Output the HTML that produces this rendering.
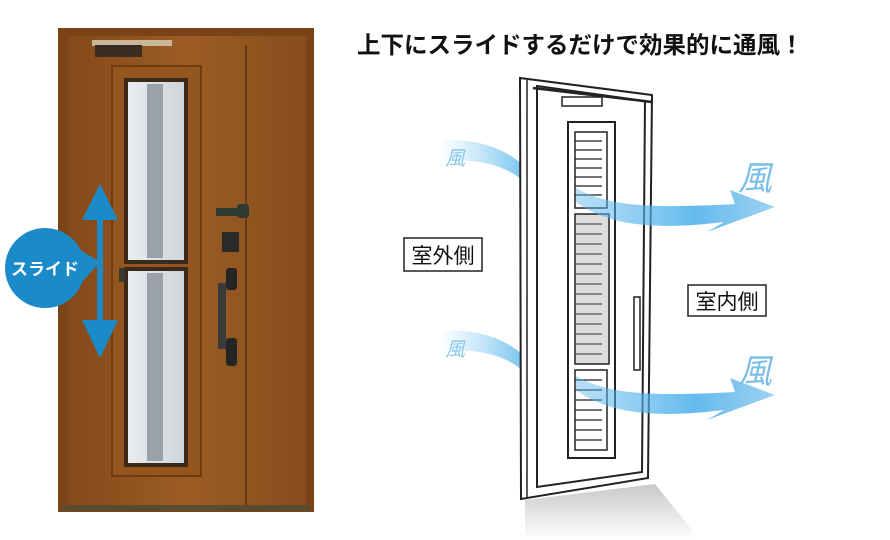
<!DOCTYPE html>
<html><head><meta charset="utf-8"><style>
html,body{margin:0;padding:0;background:#fff;width:890px;height:540px;overflow:hidden}
svg text{font-family:"Liberation Sans","Noto Sans CJK JP",sans-serif}
</style></head><body>
<svg width="890" height="540" viewBox="0 0 890 540" xmlns="http://www.w3.org/2000/svg">
<defs>
<linearGradient id="wood" x1="0" x2="1"><stop offset="0" stop-color="#84491a"/><stop offset=".5" stop-color="#9c5d25"/><stop offset="1" stop-color="#874d1d"/></linearGradient>
<linearGradient id="glass" x1="0" x2="1"><stop offset="0" stop-color="#e8ecef"/><stop offset="1" stop-color="#cfd5da"/></linearGradient>
<linearGradient id="wl" x1="0" x2="1"><stop offset="0" stop-color="#8fd0f2" stop-opacity="0"/><stop offset="1" stop-color="#6cc0ee" stop-opacity=".9"/></linearGradient>
<linearGradient id="wr" x1="0" x2="1"><stop offset="0" stop-color="#5ab6ec" stop-opacity=".5"/><stop offset=".6" stop-color="#4aaeea"/><stop offset="1" stop-color="#8ccaf0"/></linearGradient>
<linearGradient id="sh" x1="0" y1="0" x2="0" y2="1"><stop offset="0" stop-color="#c8c8c8"/><stop offset="1" stop-color="#fff"/></linearGradient>
</defs>
<rect x="58" y="28" width="256" height="484" fill="#7a4417"/>
<rect x="68" y="36" width="238" height="470" fill="url(#wood)"/>
<line x1="246" y1="45" x2="246" y2="505" stroke="#6a3a12" stroke-width="2"/>
<rect x="62" y="505" width="248" height="6" fill="#5a4a30"/>
<rect x="92" y="40" width="80" height="6" fill="#c9b79a"/>
<rect x="95" y="45" width="47" height="12" fill="#3a2e22"/>
<rect x="112" y="66" width="89" height="410" fill="#93561f" stroke="#6f3c12" stroke-width="2"/>
<rect x="124" y="78" width="64" height="186" fill="#3b2a1a"/>
<rect x="128" y="82" width="56" height="178" fill="url(#glass)"/>
<rect x="147" y="84" width="16" height="174" fill="#9aa1a8"/>
<rect x="124" y="267" width="64" height="200" fill="#3b2a1a"/>
<rect x="128" y="271" width="56" height="192" fill="url(#glass)"/>
<rect x="147" y="273" width="16" height="188" fill="#9aa1a8"/>
<rect x="119" y="268" width="6" height="14" fill="#3a3a2a"/>
<rect x="216" y="208" width="30" height="8" fill="#2f3a32"/>
<rect x="237" y="204" width="12" height="14" rx="3" fill="#2f3a32"/>
<rect x="222" y="232" width="17" height="20" fill="#2a2a2a"/>
<rect x="226" y="268" width="11" height="22" rx="3" fill="#252525"/>
<rect x="218" y="283" width="8" height="66" fill="#3a3a3a"/>
<rect x="226" y="338" width="11" height="28" rx="3" fill="#252525"/>
<path d="M100 184 L118 220 L103 220 L103 320 L118 320 L100 358 L82 320 L97 320 L97 220 L82 220 Z" fill="#1a8ac8"/>
<circle cx="45" cy="268" r="40" fill="#1a8ac8"/>
<path d="M80 250 L100 262 L82 282 Z" fill="#1a8ac8"/>
<text x="45" y="275" fill="#fff" font-size="17" font-weight="bold" text-anchor="middle">スライド</text>
<text x="357" y="53" font-size="23.5" font-weight="bold" fill="#111">上下にスライドするだけで効果的に通風！</text>
<polygon points="525,500 655,484 700,540 525,540" fill="url(#sh)"/>
<path d="M440 140 C480 138 505 150 522 164 L522 180 C505 166 480 158 440 161 Z" fill="url(#wl)"/>
<path d="M440 331 C480 328 505 340 522 354 L522 370 C505 356 480 348 440 351 Z" fill="url(#wl)"/>
<text x="455" y="165" font-size="20" fill="#8cc8ec" font-style="italic" text-anchor="middle">風</text>
<text x="455" y="356" font-size="20" fill="#8cc8ec" font-style="italic" text-anchor="middle">風</text>
<polygon points="520,78 652,95 648,478 521,499" fill="#fff" stroke="#222" stroke-width="2"/>
<line x1="527" y1="80" x2="527" y2="498" stroke="#222" stroke-width="1.5"/>
<polygon points="537,86 645,101 642,472 537,487" fill="#fff" stroke="#222" stroke-width="2"/>
<line x1="533" y1="88" x2="652" y2="102" stroke="#222" stroke-width="2.5"/>
<rect x="562" y="97" width="40" height="9" fill="#fff" stroke="#222" stroke-width="1.5"/>
<rect x="568" y="122" width="47" height="336" fill="#fff" stroke="#222" stroke-width="2"/>
<rect x="575" y="132" width="32" height="76" fill="#fff" stroke="#222" stroke-width="1.5"/>
<g stroke="#222" stroke-width="1.2">
<line x1="575" y1="141" x2="602" y2="141"/><line x1="575" y1="150" x2="602" y2="150"/><line x1="575" y1="159" x2="602" y2="159"/><line x1="575" y1="168" x2="602" y2="168"/><line x1="575" y1="177" x2="602" y2="177"/><line x1="575" y1="186" x2="602" y2="186"/><line x1="575" y1="195" x2="602" y2="195"/>
</g>
<rect x="575" y="214" width="34" height="150" fill="#ddd" stroke="#222" stroke-width="1.5"/>
<g stroke="#333" stroke-width="1">
<line x1="576" y1="224" x2="602" y2="224"/><line x1="576" y1="234" x2="602" y2="234"/><line x1="576" y1="244" x2="602" y2="244"/><line x1="576" y1="254" x2="602" y2="254"/><line x1="576" y1="264" x2="602" y2="264"/><line x1="576" y1="274" x2="602" y2="274"/><line x1="576" y1="284" x2="602" y2="284"/><line x1="576" y1="294" x2="602" y2="294"/><line x1="576" y1="304" x2="602" y2="304"/><line x1="576" y1="314" x2="602" y2="314"/><line x1="576" y1="324" x2="602" y2="324"/><line x1="576" y1="334" x2="602" y2="334"/><line x1="576" y1="344" x2="602" y2="344"/><line x1="576" y1="354" x2="602" y2="354"/>
</g>
<rect x="575" y="370" width="32" height="80" fill="#fff" stroke="#222" stroke-width="1.5"/>
<g stroke="#222" stroke-width="1.2">
<line x1="575" y1="380" x2="602" y2="380"/><line x1="575" y1="390" x2="602" y2="390"/><line x1="575" y1="400" x2="602" y2="400"/><line x1="575" y1="410" x2="602" y2="410"/><line x1="575" y1="420" x2="602" y2="420"/><line x1="575" y1="430" x2="602" y2="430"/><line x1="575" y1="440" x2="602" y2="440"/>
</g>
<path d="M634 297 L640 297 L640 370 L634 370 Z" fill="#fff" stroke="#222" stroke-width="1.5"/>
<path d="M576 188 C610 208 660 208 735 204 L730 190 L775 207 L707 232 L724 222 C660 230 610 227 576 202 Z" fill="url(#wr)" opacity=".85"/>
<path d="M576 376 C610 396 660 396 735 392 L730 378 L775 395 L707 420 L724 410 C660 418 610 415 576 390 Z" fill="url(#wr)" opacity=".85"/>
<text x="755" y="190" font-size="34" fill="#7bbfe9" font-style="italic" text-anchor="middle">風</text>
<text x="755" y="383" font-size="34" fill="#7bbfe9" font-style="italic" text-anchor="middle">風</text>
<rect x="404" y="238" width="78" height="33" fill="#fff" stroke="#222" stroke-width="1.5"/>
<text x="443" y="263" font-size="21" text-anchor="middle" fill="#111">室外側</text>
<rect x="688" y="285" width="78" height="31" fill="#fff" stroke="#222" stroke-width="1.5"/>
<text x="727" y="309" font-size="21" text-anchor="middle" fill="#111">室内側</text>
</svg>
</body></html>
